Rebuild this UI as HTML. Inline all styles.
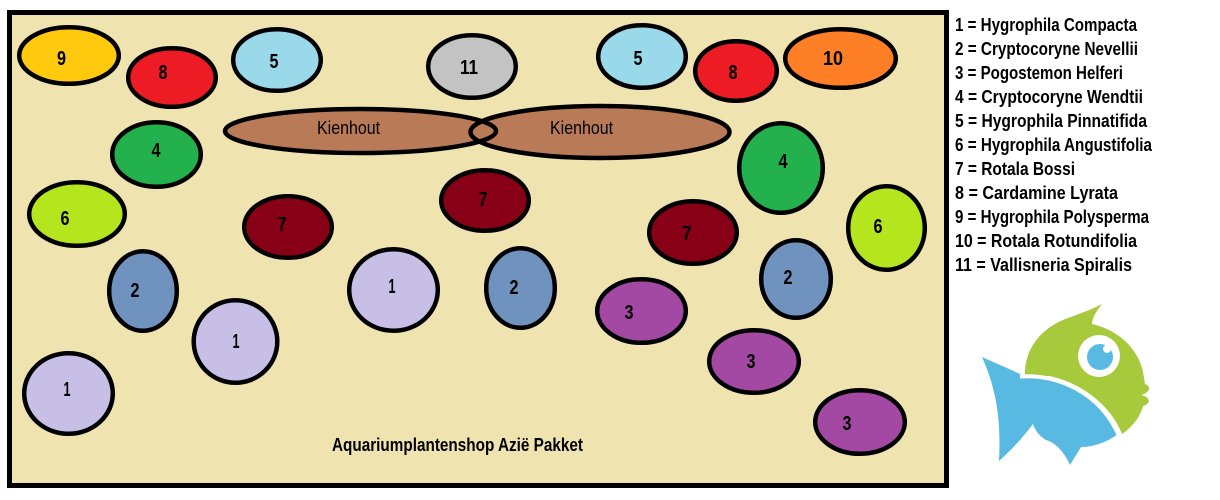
<!DOCTYPE html>
<html><head><meta charset="utf-8"><style>
html,body{margin:0;padding:0;background:#fff;width:1220px;height:500px;overflow:hidden}
svg{display:block}
.n{font-family:"Liberation Sans Narrow","Liberation Sans",sans-serif;font-weight:bold;font-size:20px;fill:#000;text-anchor:middle}
.k{font-family:"Liberation Sans Narrow","Liberation Sans",sans-serif;font-size:18px;fill:#000}
.l{font-family:"Liberation Sans Narrow","Liberation Sans",sans-serif;font-weight:bold;font-size:18px;fill:#000}
</style></head><body>
<svg width="1220" height="500" viewBox="0 0 1220 500" xmlns="http://www.w3.org/2000/svg">
<rect x="0" y="0" width="1220" height="500" fill="#fff"/>
<rect x="9.5" y="12.5" width="937" height="473" fill="#EFE4B0" stroke="#000" stroke-width="5"/>
<g stroke="#000" stroke-width="4.5">
<ellipse cx="69" cy="55.5" rx="49.8" ry="28.3" fill="#FFC90E"/>
<ellipse cx="172" cy="77.5" rx="43.8" ry="29.3" fill="#ED1C24"/>
<ellipse cx="277" cy="60" rx="43.8" ry="30.8" fill="#99D9EA"/>
<ellipse cx="472" cy="66.5" rx="43.8" ry="31.3" fill="#C3C3C3"/>
<ellipse cx="156.5" cy="154.5" rx="44.3" ry="32.3" fill="#22B14C"/>
<ellipse cx="77" cy="214" rx="47.8" ry="31.8" fill="#B5E61D"/>
<ellipse cx="288" cy="227" rx="43.8" ry="30.8" fill="#880015"/>
<ellipse cx="485" cy="200.5" rx="43.8" ry="30.3" fill="#880015"/>
<ellipse cx="642" cy="56.5" rx="43.8" ry="31.3" fill="#99D9EA"/>
<ellipse cx="736" cy="71" rx="40.8" ry="29.8" fill="#ED1C24"/>
<ellipse cx="840.5" cy="58.5" rx="55.3" ry="29.3" fill="#FF7F27"/>
<ellipse cx="781" cy="168" rx="41.8" ry="44.8" fill="#22B14C"/>
<ellipse cx="886.5" cy="228" rx="38.3" ry="41.8" fill="#B5E61D"/>
<ellipse cx="693" cy="232.5" rx="43.8" ry="31.3" fill="#880015"/>
<ellipse cx="143" cy="291" rx="33.8" ry="39.8" fill="#7092BE"/>
<ellipse cx="235.5" cy="341.5" rx="41.8" ry="41.3" fill="#C8BFE7"/>
<ellipse cx="68.5" cy="393.5" rx="44.3" ry="40.3" fill="#C8BFE7"/>
<ellipse cx="393.5" cy="290" rx="44.3" ry="40.8" fill="#C8BFE7"/>
<ellipse cx="520.5" cy="288" rx="34.3" ry="39.8" fill="#7092BE"/>
<ellipse cx="641.5" cy="311" rx="44.3" ry="31.8" fill="#A349A4"/>
<ellipse cx="796" cy="279" rx="34.8" ry="38.8" fill="#7092BE"/>
<ellipse cx="754" cy="361.5" rx="44.8" ry="31.3" fill="#A349A4"/>
<ellipse cx="860" cy="422" rx="44.8" ry="31.8" fill="#A349A4"/>
</g>
<!-- Kienhout -->
<ellipse cx="360.5" cy="131" rx="135.5" ry="22" fill="#B97A57"/>
<ellipse cx="600" cy="132" rx="129.5" ry="26" fill="#B97A57"/>
<ellipse cx="360.5" cy="131" rx="135.5" ry="22" fill="none" stroke="#000" stroke-width="4.5"/>
<ellipse cx="600" cy="132" rx="129.5" ry="26" fill="none" stroke="#000" stroke-width="4.5"/>
<text class="k" x="317" y="134" textLength="63" lengthAdjust="spacingAndGlyphs">Kienhout</text>
<text class="k" x="550" y="134" textLength="63" lengthAdjust="spacingAndGlyphs">Kienhout</text>
<!-- numbers -->
<g class="n">
<text x="61.5" y="65" textLength="9" lengthAdjust="spacingAndGlyphs">9</text>
<text x="163" y="79" textLength="9" lengthAdjust="spacingAndGlyphs">8</text>
<text x="274" y="68" textLength="9" lengthAdjust="spacingAndGlyphs">5</text>
<text x="469" y="74" textLength="18" lengthAdjust="spacingAndGlyphs">11</text>
<text x="156" y="157" textLength="9" lengthAdjust="spacingAndGlyphs">4</text>
<text x="65" y="225" textLength="9" lengthAdjust="spacingAndGlyphs">6</text>
<text x="282" y="231" textLength="9" lengthAdjust="spacingAndGlyphs">7</text>
<text x="638" y="65" textLength="9" lengthAdjust="spacingAndGlyphs">5</text>
<text x="733" y="79" textLength="9" lengthAdjust="spacingAndGlyphs">8</text>
<text x="833" y="65" textLength="20" lengthAdjust="spacingAndGlyphs">10</text>
<text x="483" y="206" textLength="9" lengthAdjust="spacingAndGlyphs">7</text>
<text x="783" y="168" textLength="9" lengthAdjust="spacingAndGlyphs">4</text>
<text x="687" y="240" textLength="9" lengthAdjust="spacingAndGlyphs">7</text>
<text x="878" y="233" textLength="9" lengthAdjust="spacingAndGlyphs">6</text>
<text x="135" y="297" textLength="9" lengthAdjust="spacingAndGlyphs">2</text>
<text x="392" y="293" textLength="7" lengthAdjust="spacingAndGlyphs">1</text>
<text x="236" y="348" textLength="7" lengthAdjust="spacingAndGlyphs">1</text>
<text x="67" y="396" textLength="7" lengthAdjust="spacingAndGlyphs">1</text>
<text x="514" y="294" textLength="9" lengthAdjust="spacingAndGlyphs">2</text>
<text x="629" y="319" textLength="9" lengthAdjust="spacingAndGlyphs">3</text>
<text x="788" y="284" textLength="9" lengthAdjust="spacingAndGlyphs">2</text>
<text x="751" y="368" textLength="9" lengthAdjust="spacingAndGlyphs">3</text>
<text x="847" y="430" textLength="9" lengthAdjust="spacingAndGlyphs">3</text>
</g>
<text class="l" x="332" y="451" font-size="19" textLength="251" lengthAdjust="spacingAndGlyphs">Aquariumplantenshop Azië Pakket</text>
<!-- legend -->
<g class="l">
<text x="955" y="31" textLength="182" lengthAdjust="spacingAndGlyphs">1 = Hygrophila Compacta</text>
<text x="955" y="55" textLength="183" lengthAdjust="spacingAndGlyphs">2 = Cryptocoryne Nevellii</text>
<text x="955" y="79" textLength="168" lengthAdjust="spacingAndGlyphs">3 = Pogostemon Helferi</text>
<text x="955" y="103" textLength="188" lengthAdjust="spacingAndGlyphs">4 = Cryptocoryne Wendtii</text>
<text x="955" y="127" textLength="192" lengthAdjust="spacingAndGlyphs">5 = Hygrophila Pinnatifida</text>
<text x="955" y="151" textLength="197" lengthAdjust="spacingAndGlyphs">6 = Hygrophila Angustifolia</text>
<text x="955" y="175" textLength="120" lengthAdjust="spacingAndGlyphs">7 = Rotala Bossi</text>
<text x="955" y="199" textLength="163" lengthAdjust="spacingAndGlyphs">8 = Cardamine Lyrata</text>
<text x="955" y="223" textLength="194" lengthAdjust="spacingAndGlyphs">9 = Hygrophila Polysperma</text>
<text x="955" y="247" textLength="182" lengthAdjust="spacingAndGlyphs">10 = Rotala Rotundifolia</text>
<text x="955" y="271" textLength="177" lengthAdjust="spacingAndGlyphs">11 = Vallisneria Spiralis</text>
</g>
<!-- fish -->
<path d="M982,357 L1027,377 C1060,378 1100,392 1118,434 C1106,443 1092,447 1081,447 L1070,465 C1064,452 1056,443 1046,440 C1039,436 1035,430 1033,424 C1021,440 1009,452 999,461 C1001,422 997,390 982,357 Z" fill="#58BAE3"/>
<path d="M1025,376 C1024,350 1040,328 1068,318 C1082,313 1095,308 1102,304 C1096,312 1092,318 1092,324 C1118,330 1138,348 1143,372 L1145,384 C1151,386 1151,392 1141,395 C1151,397 1151,404 1143,406 C1140,418 1131,428 1122,434 C1112,408 1085,384 1050,376 Z" fill="#A7C93C"/>
<path d="M1020,376.5 C1055,374 1100,390 1120,438" fill="none" stroke="#fff" stroke-width="4"/>
<circle cx="1099" cy="356" r="21" fill="#fff"/>
<circle cx="1100" cy="357" r="13" fill="#58BAE3"/>
<circle cx="1107" cy="349" r="4" fill="#fff"/>
</svg>
</body></html>
